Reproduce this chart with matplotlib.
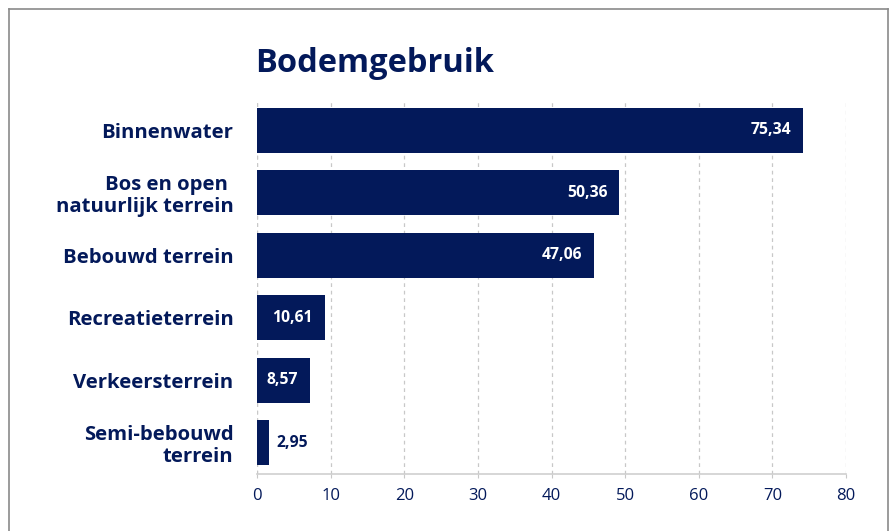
import matplotlib
matplotlib.use("Agg")
import matplotlib.pyplot as plt
from matplotlib.lines import Line2D

categories = ["Binnenwater", "Bos en open \nnatuurlijk terrein", "Bebouwd terrein",
              "Recreatieterrein", "Verkeersterrein", "Semi-bebouwd\nterrein"]
bar_values = [74.2, 49.2, 45.8, 9.2, 7.2, 1.6]
value_labels = ["75,34", "50,36", "47,06", "10,61", "8,57", "2,95"]
xticks = [0, 10, 20, 30, 40, 50, 60, 70, 80]

navy = "#03195a"
plt.rcParams['font.family'] = ['Open Sans', 'DejaVu Sans']

fig = plt.figure(figsize=(8.91, 5.31), dpi=100)
ax = fig.add_axes([257/891, 57/531, 589/891, 375/531])

y = list(range(len(categories)))
ax.barh(y, bar_values, height=0.72, color=navy, zorder=3)
ax.set_ylim(len(categories) - 0.5, -0.5)
ax.set_xlim(0, 80)
ax.set_xticks(xticks)
ax.set_xticklabels([str(t) for t in xticks], color=navy, fontsize=12)
ax.set_yticks(y)
ax.set_yticklabels(categories, color=navy, fontsize=14.6, fontweight='bold', ha='right',
                   linespacing=1.1)
ax.tick_params(axis='y', length=0, pad=17)
ax.tick_params(axis='x', length=3, color='#c8c8c8', pad=7)
for s in ['top', 'right', 'left']:
    ax.spines[s].set_visible(False)
ax.spines['bottom'].set_color('#cfcfcf')
ax.spines['bottom'].set_linewidth(1.2)
ax.grid(axis='x', color='#c8c8c8', linestyle=(0, (3, 3)), linewidth=0.9, zorder=0)
ax.axvline(0, color='#c8c8c8', linestyle=(0, (3, 3)), linewidth=0.9, zorder=0)

for i, (v, lab) in enumerate(zip(bar_values, value_labels)):
    if v > 5:
        ax.text(v - 1.6, i, lab, ha='right', va='center', color='white',
                fontsize=11.3, fontweight='bold', zorder=4)
    else:
        ax.text(v + 1.1, i, lab, ha='left', va='center', color=navy,
                fontsize=11.3, fontweight='bold', zorder=4)

fig.text(255/891, 1 - 63/531, "Bodemgebruik", ha='left', va='center',
         fontsize=23.5, fontweight='bold', color=navy)

# outer frame
for xs, ys in [([9/891, 9/891], [0, 1 - 9/531]),
               ([9/891, 888/891], [1 - 9/531, 1 - 9/531]),
               ([888/891, 888/891], [0, 1 - 9/531])]:
    fig.add_artist(Line2D(xs, ys, color='#8a8a8a', linewidth=1.2, transform=fig.transFigure))

fig.savefig("out.png", dpi=100)
